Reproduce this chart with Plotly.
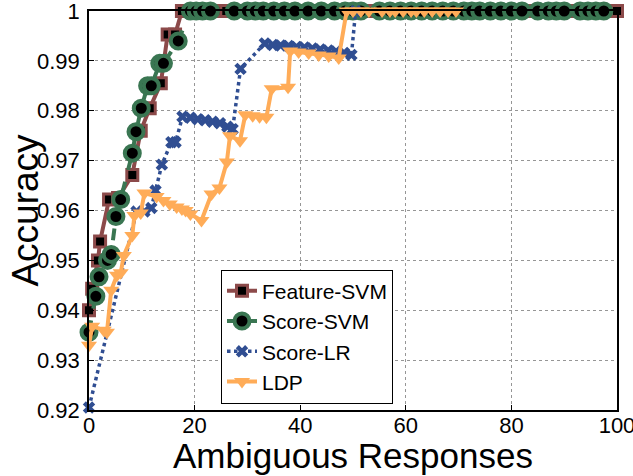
import plotly.graph_objects as go

# ---------------- data ----------------
feat_x = [0, 0.6, 1.7, 2.1, 3.8, 5.5, 8.2, 9.8, 11.5, 13.6, 14.9, 16.3, 17.6,
          19, 20.5, 22, 24, 26, 28, 30, 32, 34, 36, 38, 40, 42, 44, 46, 48, 50,
          52, 54, 56, 58, 60, 62, 64, 66, 68, 70, 72, 74, 76, 78, 80, 82, 84,
          86, 88, 90, 92, 94, 96, 98, 100]
feat_y = [0.9400, 0.9443, 0.9500, 0.9538, 0.9622, 0.9625, 0.9671, 0.9760,
          0.9805, 0.9855, 0.9953, 0.9953] + [1.0] * 43

score_svm_x = [0, 1.3, 1.9, 3.5, 4.2, 5.1, 6.0, 8.2, 8.9, 9.9, 11.1, 11.8, 13.4,
               14.1, 16.9, 19.2, 20.3, 21.5, 23, 27.5, 30, 31.5, 33, 35, 37, 39,
               41.5, 44, 46.5, 48.5, 50, 51.5, 55, 57, 59, 61, 63, 65, 67, 69,
               71, 72.5, 74, 76, 78, 80, 82, 85, 87, 88.5, 90, 93, 94.5, 96, 97.5]
score_svm_y = [0.9356, 0.9428, 0.9467, 0.9500, 0.9512, 0.9588, 0.9622, 0.9715,
               0.9758, 0.9805, 0.9850, 0.9850, 0.9895, 0.9895, 0.9940] + [1.0] * 40

score_lr_x = [0, 9, 10.5, 11.8, 12.6, 13.8, 15.6, 16.4, 17.7, 19.2, 20.6, 22,
              23.4, 24.8, 26.2, 27.2, 28.7, 33.3, 34.8, 36.3, 37.8, 39.3, 40.8,
              42.3, 43.8, 45.3, 46.8, 48.3, 49.7, 50.5]
score_lr_y = [0.9205, 0.9598, 0.9598, 0.9605, 0.9640, 0.9692, 0.9737, 0.9737,
              0.9788, 0.9786, 0.9783, 0.9781, 0.9778, 0.9775, 0.9768, 0.9763,
              0.9884, 0.9935, 0.9932, 0.9931, 0.9930, 0.9928, 0.9927, 0.9925,
              0.9923, 0.9921, 0.9919, 0.9916, 0.9912, 1.0]

ldp_x = [0, 0.6, 2.8, 3.4, 4.2, 5.3, 6.0, 6.6, 8.2, 8.6, 9.8, 10.5, 12.8, 14.1,
         15.3, 16.6, 17.6, 18.3, 19.2, 21.3, 23.2, 24.7, 26.1, 26.7, 28.6, 29.6,
         31.0, 32.3, 33.6, 34.6, 37.7, 38.1, 39.7, 41.6, 43.5, 45.4, 47.3, 48.8,
         50, 51.5, 53, 55.5, 57, 58, 59.5, 61, 62, 63.5, 65, 66.5, 68, 69.5]
ldp_y = [0.9330, 0.9368, 0.9360, 0.9356, 0.9440, 0.9470, 0.9475, 0.9510,
         0.9550, 0.9590, 0.9595, 0.9635, 0.9628, 0.9620, 0.9613, 0.9607,
         0.9603, 0.9600, 0.9593, 0.9580, 0.9633, 0.9645, 0.9697, 0.9750,
         0.9740, 0.9792, 0.9790, 0.9788, 0.9787, 0.9844, 0.9847, 0.9920,
         0.9918, 0.9916, 0.9912, 0.9910, 0.9906] + [1.0] * 15

series_names = ["Feature-SVM", "Score-SVM", "Score-LR", "LDP"]
x_ticks = [0, 20, 40, 60, 80, 100]
y_ticks = [0.92, 0.93, 0.94, 0.95, 0.96, 0.97, 0.98, 0.99, 1.0]
y_tick_labels = ["0.92", "0.93", "0.94", "0.95", "0.96", "0.97", "0.98", "0.99", "1"]
x_title = "Ambiguous Responses"
y_title = "Accuracy"

# ---------------- styling ----------------
BROWN = "rgb(140,74,74)"
GREEN = "rgb(58,118,82)"
BLUE = "rgb(48,78,146)"
ORANGE = "rgb(255,172,88)"
FONT = "Liberation Sans, Arial, sans-serif"

fig = go.Figure()
fig.add_trace(go.Scatter(
    x=feat_x, y=feat_y, name=series_names[0], mode="lines+markers",
    line=dict(color=BROWN, width=4),
    marker=dict(symbol="square", size=11, color="black", line=dict(color=BROWN, width=3)),
    cliponaxis=False))
fig.add_trace(go.Scatter(
    x=score_svm_x, y=score_svm_y, name=series_names[1], mode="lines+markers",
    line=dict(color=GREEN, width=4, dash="dash"),
    marker=dict(symbol="circle", size=15, color="black", line=dict(color=GREEN, width=4)),
    cliponaxis=False))
fig.add_trace(go.Scatter(
    x=score_lr_x, y=score_lr_y, name=series_names[2], mode="lines+markers",
    line=dict(color=BLUE, width=3.5, dash="dot"),
    marker=dict(symbol="x", size=11, color=BLUE, line=dict(width=0)),
    cliponaxis=False))
fig.add_trace(go.Scatter(
    x=ldp_x, y=ldp_y, name=series_names[3], mode="lines+markers",
    line=dict(color=ORANGE, width=4),
    marker=dict(symbol="triangle-down", size=14, color=ORANGE, line=dict(width=0)),
    cliponaxis=False))

axis_common = dict(
    showline=True, linecolor="black", linewidth=1.5, mirror=True,
    ticks="inside", ticklen=5, tickcolor="black",
    showgrid=True, gridcolor="rgb(150,150,150)", griddash="dot", gridwidth=1,
    zeroline=False, tickfont=dict(family=FONT, size=22, color="black"),
    automargin=False, ticklabeloverflow="allow",
)

fig.update_layout(
    width=633, height=476,
    margin=dict(l=89, r=16, t=11, b=66),
    paper_bgcolor="white", plot_bgcolor="white",
    font=dict(family=FONT, color="black"),
    xaxis=dict(range=[0, 100], tickvals=x_ticks, ticklabelstandoff=-5, **axis_common),
    yaxis=dict(range=[0.92, 1.0], tickvals=y_ticks, ticktext=y_tick_labels,
               ticklabelstandoff=3, **axis_common),
    legend=dict(x=0.25, y=0.352, xanchor="left", yanchor="top",
                bgcolor="white", bordercolor="black", borderwidth=1,
                font=dict(family=FONT, size=21, color="black"),
                itemwidth=30),
    showlegend=True,
    annotations=[
        dict(text=x_title, xref="paper", yref="paper", x=0.5, y=-0.113,
             xanchor="center", yanchor="middle", showarrow=False,
             font=dict(family=FONT, size=35, color="black")),
        dict(text=y_title, xref="paper", yref="paper", x=-0.121, y=0.5,
             xanchor="center", yanchor="middle", showarrow=False, textangle=-90,
             font=dict(family=FONT, size=37, color="black")),
    ],
)

fig.write_html("out.html", config={"displayModeBar": False},
               post_script="document.body.style.margin='0px';")
